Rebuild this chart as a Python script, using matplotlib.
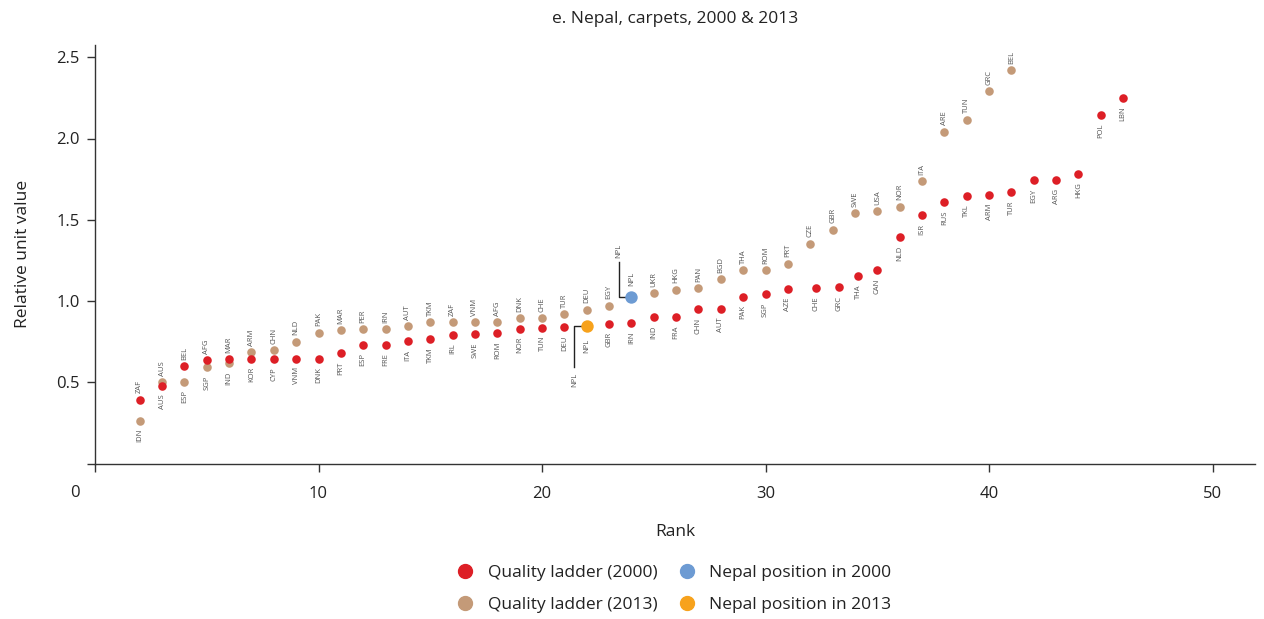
import matplotlib
matplotlib.use("Agg")
import matplotlib.pyplot as plt
from matplotlib.lines import Line2D

plt.rcParams['font.family'] = ['Open Sans', 'DejaVu Sans']

# Quality ladder 2000 (red)
rank_2000 = [2, 3, 4, 5, 6, 7, 8, 9, 10, 11, 12, 13, 14, 15, 16, 17, 18, 19, 20, 21,
             23, 24, 25, 26, 27, 28, 29, 30, 31, 32.25, 33.3, 34.15, 35, 36, 37, 38,
             39, 40, 41, 42, 43, 44, 45, 46]
value_2000 = [0.393, 0.479, 0.598, 0.637, 0.643, 0.645, 0.645, 0.645, 0.645, 0.680,
              0.731, 0.731, 0.752, 0.766, 0.791, 0.795, 0.803, 0.830, 0.836, 0.840,
              0.860, 0.863, 0.900, 0.903, 0.949, 0.949, 1.025, 1.043, 1.072, 1.080,
              1.084, 1.154, 1.190, 1.392, 1.527, 1.609, 1.646, 1.650, 1.671, 1.743,
              1.743, 1.782, 2.143, 2.251]
country_2000 = ['ZAF', 'AUS', 'BEL', 'AFG', 'MAR', 'KOR', 'CYP', 'VNM', 'DNK', 'PRT',
                'ESP', 'FRE', 'ITA', 'TKM', 'IRL', 'SWE', 'ROM', 'NOR', 'TUN', 'DEU',
                'GBR', 'IRN', 'IND', 'FRA', 'CHN', 'AUT', 'PAK', 'SGP', 'AZE', 'CHE',
                'GRC', 'THA', 'CAN', 'NLD', 'ISR', 'RUS', 'TKL', 'ARM', 'TUR', 'EGY',
                'ARG', 'HKG', 'POL', 'LBN']
above_2000 = ['ZAF', 'BEL', 'AFG', 'MAR']

# Quality ladder 2013 (tan)
rank_2013 = [2, 3, 4, 5, 6, 7, 8, 9, 10, 11, 12, 13, 14, 15, 16, 17, 18, 19, 20, 21,
             22, 23, 25, 26, 27, 28, 29, 30, 31, 32, 33, 34, 35, 36, 37, 38, 39, 40, 41]
value_2013 = [0.263, 0.500, 0.503, 0.592, 0.618, 0.686, 0.700, 0.750, 0.805, 0.821,
              0.826, 0.828, 0.844, 0.869, 0.869, 0.869, 0.871, 0.894, 0.895, 0.918,
              0.947, 0.971, 1.047, 1.070, 1.078, 1.133, 1.190, 1.190, 1.230, 1.353,
              1.439, 1.543, 1.554, 1.580, 1.737, 2.042, 2.116, 2.292, 2.423]
country_2013 = ['IDN', 'AUS', 'ESP', 'SGP', 'IND', 'ARM', 'CHN', 'NLD', 'PAK', 'MAR',
                'PER', 'IRN', 'AUT', 'TKM', 'ZAF', 'VNM', 'AFG', 'DNK', 'CHE', 'TUR',
                'DEU', 'EGY', 'UKR', 'HKG', 'PAN', 'BGD', 'THA', 'ROM', 'PRT', 'CZE',
                'GBR', 'SWE', 'USA', 'NOR', 'ITA', 'ARE', 'TUN', 'GRC', 'BEL']
below_2013 = ['IDN', 'ESP', 'SGP', 'IND']

# Nepal
nepal_2000 = (24, 1.025)
nepal_2013 = (22, 0.846)

RED = '#dd1f26'
TAN = '#c49a78'
BLUE = '#6d9bd3'
ORANGE = '#f7a21c'
LABEL_GREY = '#555555'

fig = plt.figure(figsize=(12.64, 6.19), dpi=100)
ax = fig.add_axes([95 / 1264, 1 - 463.5 / 619, 1160 / 1264, 418.5 / 619])

ax.scatter(rank_2000, value_2000, s=38, color=RED, zorder=3, linewidths=0)
ax.scatter(rank_2013, value_2013, s=38, color=TAN, zorder=2, linewidths=0)
ax.scatter([nepal_2000[0]], [nepal_2000[1]], s=80, color=BLUE, zorder=4, linewidths=0)
ax.scatter([nepal_2013[0]], [nepal_2013[1]], s=80, color=ORANGE, zorder=4, linewidths=0)


def label(x, y, txt, above, up=4.5, down=6):
    if above:
        ax.annotate(txt, (x, y), xytext=(0, up), textcoords='offset points',
                    rotation=90, ha='center', va='bottom', fontsize=5.5, color=LABEL_GREY)
    else:
        ax.annotate(txt, (x, y), xytext=(0, -down), textcoords='offset points',
                    rotation=90, ha='center', va='top', fontsize=5.5, color=LABEL_GREY)


for x, y, c in zip(rank_2000, value_2000, country_2000):
    label(x, y, c, c in above_2000)
for x, y, c in zip(rank_2013, value_2013, country_2013):
    label(x, y, c, c not in below_2013)

# Nepal labels and leader lines
label(nepal_2000[0], nepal_2000[1], 'NPL', True, up=8)
label(nepal_2013[0], nepal_2013[1], 'NPL', False, down=9.5)

x0, y0 = nepal_2000
ax.plot([x0, x0 - 0.57, x0 - 0.57], [y0, y0, y0 + 0.213], color='#222222', lw=1, zorder=1)
label(x0 - 0.57, y0 + 0.213, 'NPL', True, up=3)
x1, y1 = nepal_2013
ax.plot([x1, x1 - 0.55, x1 - 0.55], [y1, y1, y1 - 0.254], color='#222222', lw=1, zorder=1)
label(x1 - 0.55, y1 - 0.254, 'NPL', False, down=4)

ax.set_xlim(0, 1160 / 22.35)
ax.set_ylim(0, 418.5 / 162.5)
ax.set_xticks([0, 10, 20, 30, 40, 50])
ax.set_xticklabels(['', '10', '20', '30', '40', '50'])
ax.set_yticks([0, 0.5, 1.0, 1.5, 2.0, 2.5])
ax.set_yticklabels(['', '0.5', '1.0', '1.5', '2.0', '2.5'])
ax.tick_params(axis='both', direction='out', length=6, width=1, colors='#333333',
               labelsize=12, labelcolor='#222222')
ax.tick_params(axis='x', pad=10)
ax.tick_params(axis='y', pad=5)
for side in ['top', 'right']:
    ax.spines[side].set_visible(False)
for side in ['left', 'bottom']:
    ax.spines[side].set_color('#333333')
    ax.spines[side].set_linewidth(1)

fig.text(75 / 1264, 1 - 493 / 619, '0', ha='center', va='center', fontsize=12, color='#222222')

ax.set_xlabel('Rank', fontsize=12.5, color='#222222', labelpad=16)
ax.set_ylabel('Relative unit value', fontsize=12.5, color='#222222', labelpad=18)
ax.set_title('e. Nepal, carpets, 2000 & 2013', fontsize=12.5, color='#222222', pad=16)

handles = [
    Line2D([], [], marker='o', ls='', color=RED, markersize=10),
    Line2D([], [], marker='o', ls='', color=TAN, markersize=10),
    Line2D([], [], marker='o', ls='', color=BLUE, markersize=10),
    Line2D([], [], marker='o', ls='', color=ORANGE, markersize=10),
]
names = ['Quality ladder (2000)', 'Quality ladder (2013)',
         'Nepal position in 2000', 'Nepal position in 2013']
fig.legend(handles, names, ncol=2, loc='center', bbox_to_anchor=(674 / 1264, 1 - 589 / 619),
           frameon=False, fontsize=12.5, handlelength=1, handletextpad=0.8,
           columnspacing=1.2, labelspacing=0.9, labelcolor='#222222')

fig.savefig('out.png', dpi=100)
